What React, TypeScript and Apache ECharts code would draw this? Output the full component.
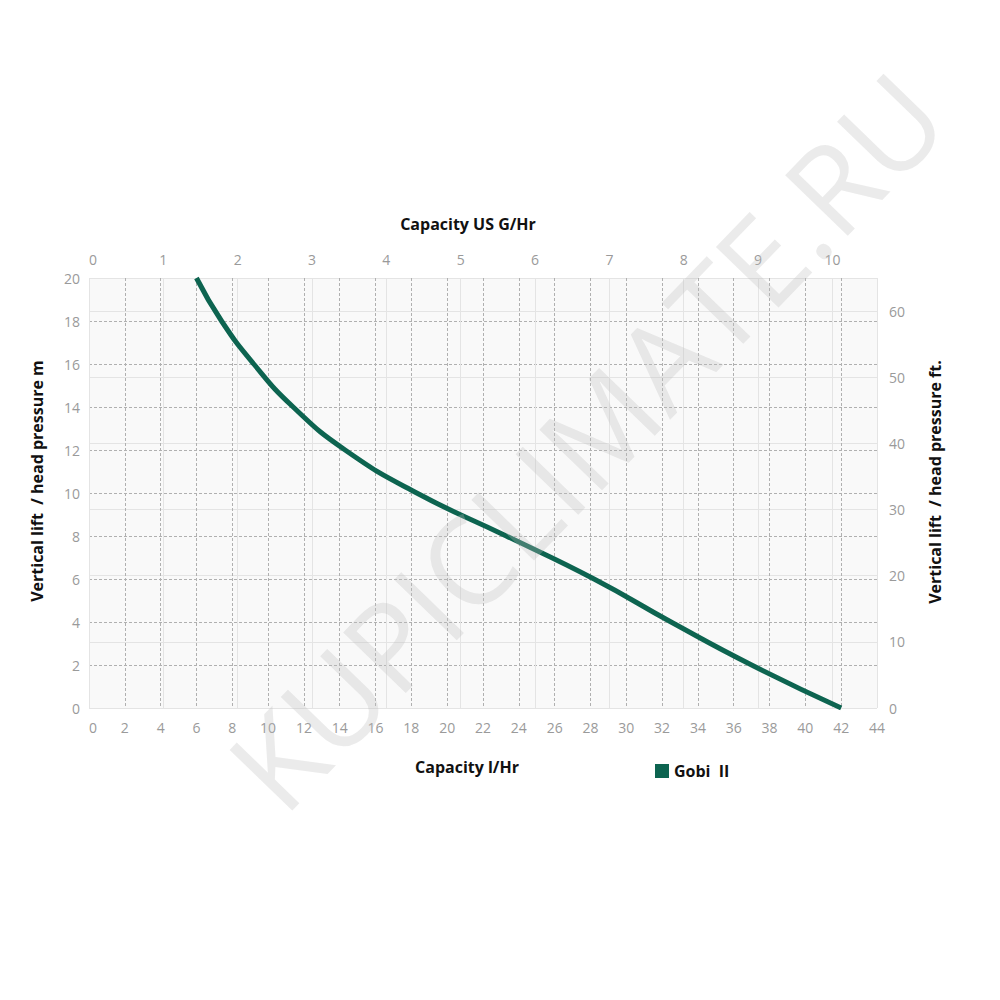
import React, { useEffect, useRef } from "react";
import * as echarts from "echarts";

// Capacity in litres per hour (bottom axis) vs vertical lift in metres (left axis)
const capacityLph = [6, 7.4, 9.2, 11.4, 14.3, 18.3, 23.3, 28.2, 32.5, 37.0, 42];
const liftM = [20, 18, 16, 14, 12, 10, 8, 6, 4, 2, 0];
const seriesName = "Gobi  II";

const bottomAxisMax = 44;
const topAxisMax = 10.6; // US gallons per hour
const leftAxisMax = 20;
const rightAxisMax = 65; // feet

const font = "'Open Sans', 'Noto Sans', sans-serif";

export default function App() {
  const ref = useRef<HTMLDivElement>(null);
  useEffect(() => {
    if (!ref.current) return;
    const chart = echarts.init(ref.current, null, { renderer: "svg" });
    const tickLabel = { color: "#9a9a9a", fontSize: 14, fontFamily: font };
    const dashed = { show: true, lineStyle: { color: "#b0b0b0", type: [3, 2] as any, width: 1 } };
    const light = { show: true, lineStyle: { color: "#e4e4e4", type: "solid" as any, width: 1 } };
    chart.setOption({
      animation: false,
      backgroundColor: "#ffffff",
      grid: {
        left: 89,
        right: 123,
        top: 278,
        height: 430,
        show: true,
        backgroundColor: "#f9f9f9",
        borderWidth: 0,
      },
      legend: {
        show: true,
        left: 650,
        top: 758,
        icon: "rect",
        itemWidth: 14,
        itemHeight: 14,
        itemGap: 6,
        textStyle: { color: "#111", fontWeight: "bold", fontSize: 16, fontFamily: font },
        data: [seriesName],
      },
      xAxis: [
        {
          type: "value",
          position: "bottom",
          min: 0,
          max: bottomAxisMax,
          interval: 2,
          axisLine: { show: false },
          axisTick: { show: false },
          axisLabel: { ...tickLabel, margin: 12, alignMinLabel: "left" },
          splitLine: dashed,
        },
        {
          type: "value",
          position: "top",
          min: 0,
          max: topAxisMax,
          interval: 1,
          axisLine: { show: false },
          axisTick: { show: false },
          axisLabel: { ...tickLabel, margin: 12, alignMinLabel: "left", showMaxLabel: false },
          splitLine: light,
        },
      ],
      yAxis: [
        {
          type: "value",
          position: "left",
          min: 0,
          max: leftAxisMax,
          interval: 2,
          axisLine: { show: false },
          axisTick: { show: false },
          axisLabel: { ...tickLabel, margin: 9 },
          splitLine: dashed,
        },
        {
          type: "value",
          position: "right",
          min: 0,
          max: rightAxisMax,
          interval: 10,
          axisLine: { show: false },
          axisTick: { show: false },
          axisLabel: { ...tickLabel, margin: 12, showMaxLabel: false },
          splitLine: light,
        },
      ],
      series: [
        {
          name: seriesName,
          type: "line",
          xAxisIndex: 0,
          yAxisIndex: 0,
          smooth: 0.5,
          symbol: "none",
          z: 5,
          lineStyle: { color: "#0d6450", width: 5 },
          itemStyle: { color: "#0d6450" },
          data: capacityLph.map((c, i) => [c, liftM[i]]),
        },
      ],
      graphic: [
        {
          type: "text",
          x: 468,
          y: 224,
          style: {
            text: "Capacity US G/Hr",
            fill: "#111",
            font: `bold 16px ${font}`,
            align: "center",
            verticalAlign: "middle",
          },
        },
        {
          type: "text",
          x: 467,
          y: 767,
          style: {
            text: "Capacity l/Hr",
            fill: "#111",
            font: `bold 16px ${font}`,
            align: "center",
            verticalAlign: "middle",
          },
        },
        {
          type: "text",
          x: 37,
          y: 481,
          rotation: Math.PI / 2,
          style: {
            text: "Vertical lift  / head pressure m",
            fill: "#111",
            font: `bold 16px ${font}`,
            align: "center",
            verticalAlign: "middle",
          },
        },
        {
          type: "text",
          x: 935,
          y: 482,
          rotation: Math.PI / 2,
          style: {
            text: "Vertical lift  / head pressure ft.",
            fill: "#111",
            font: `bold 16px ${font}`,
            align: "center",
            verticalAlign: "middle",
          },
        },
        {
          type: "text",
          x: 585,
          y: 440,
          rotation: (46 * Math.PI) / 180,
          z: 100,
          silent: true,
          style: {
            text: "KUPICLIMATE.RU",
            fill: "rgba(190,190,190,0.3)",
            font: `122px ${font}`,
            align: "center",
            verticalAlign: "middle",
          },
        },
      ],
    });
    return () => chart.dispose();
  }, []);
  return <div ref={ref} style={{ width: 1000, height: 1000, position: "absolute", left: 0, top: 0 }} />;
}
